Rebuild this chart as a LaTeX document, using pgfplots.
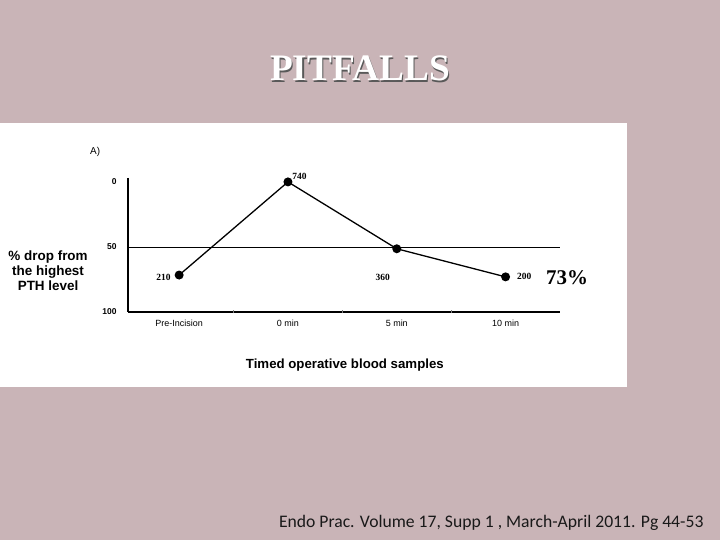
\documentclass[border=0pt]{standalone}
\usepackage{pgfplots}
\pgfplotsset{compat=1.18}
\usepackage{fontspec}
\setmainfont{Liberation Sans}
\newfontfamily\seriffont{Liberation Serif}
\newfontfamily\calibri{Carlito}
\definecolor{slidebg}{HTML}{C9B4B7}
\begin{document}
\begin{tikzpicture}
\fill[slidebg] (0,0) rectangle (720bp,540bp);
\fill[white] (0,153bp) rectangle (627bp,417bp);
\node[text=black!65, font=\seriffont\bfseries\fontsize{37.5}{40}\selectfont] at (361.5bp,470bp) {PITFALLS};
\node[text=white, font=\seriffont\bfseries\fontsize{37.5}{40}\selectfont] at (360bp,471.5bp) {PITFALLS};
\node[anchor=east, text=black!90, font=\calibri\fontsize{17.7}{20}\selectfont] at (707bp,17bp) {Endo Prac. Volume 17, Supp 1 , March-April 2011. Pg 44-53};
\begin{axis}[
  at={(128bp,228bp)}, anchor=south west,
  scale only axis, width=432bp, height=134bp,
  xmin=-0.47, xmax=3.5, ymin=-3, ymax=100,
  y dir=reverse,
  axis x line*=bottom, axis y line*=left,
  x axis line style={line width=1.8pt},
  y axis line style={line width=2.4pt},
  xtick={0,1,2,3},
  xticklabels={Pre-Incision, 0 min, 5 min, 10 min},
  major tick length=0pt,
  extra x ticks={0.5,1.5,2.5},
  extra x tick labels={},
  extra x tick style={major tick length=3bp, tick align=center, tick style={line width=0.6pt}},
  ytick={0,50,100},
  yticklabels={0,50,100},
  xticklabel style={yshift=-4bp, font=\fontsize{9}{10}\selectfont},
  yticklabel style={xshift=-8bp, font=\bfseries\fontsize{8.5}{9}\selectfont},
  /pgf/number format/assume math mode=true,
  xlabel={Timed operative blood samples},
  xlabel style={at={(axis description cs:0.502,-0.396)}, anchor=center, font=\bfseries\fontsize{13.3}{15}\selectfont},
  ylabel={\% drop from\\the highest\\PTH level},
  ylabel style={at={(axis description cs:-0.185,0.306)}, rotate=-90, anchor=center, align=center, font=\bfseries\fontsize{13.5}{15}\selectfont},
  clip=false,
]
\addplot[black, line width=0.8pt] coordinates {(-0.47,50) (3.5,50)};
\addplot[black, line width=1.3pt, mark=*, mark size=3.8bp] coordinates {
  (0,71.6) (1,0) (2,51.4) (3,73.0)};
\node[anchor=east, font=\seriffont\bfseries\fontsize{9.5}{10}\selectfont] at (axis cs:0,71.6) [xshift=-5bp, yshift=-2bp] {210};
\node[anchor=south west, font=\seriffont\bfseries\fontsize{9.5}{10}\selectfont] at (axis cs:1,0) [xshift=1bp, yshift=-1bp] {740};
\node[anchor=center, font=\seriffont\bfseries\fontsize{9.5}{10}\selectfont] at (axis cs:2,51.4) [xshift=-14bp, yshift=-29bp] {360};
\node[anchor=west, font=\seriffont\bfseries\fontsize{9.5}{10}\selectfont] at (axis cs:3,73.0) [xshift=8bp] {200};
\node[anchor=west, font=\seriffont\bfseries\fontsize{21}{23}\selectfont] at (axis cs:3,73.0) [xshift=37bp, yshift=-1bp] {73\%};
\node[font=\fontsize{10}{11}\selectfont] at (axis description cs:-0.076,1.194) {A)};
\end{axis}
\end{tikzpicture}
\end{document}
